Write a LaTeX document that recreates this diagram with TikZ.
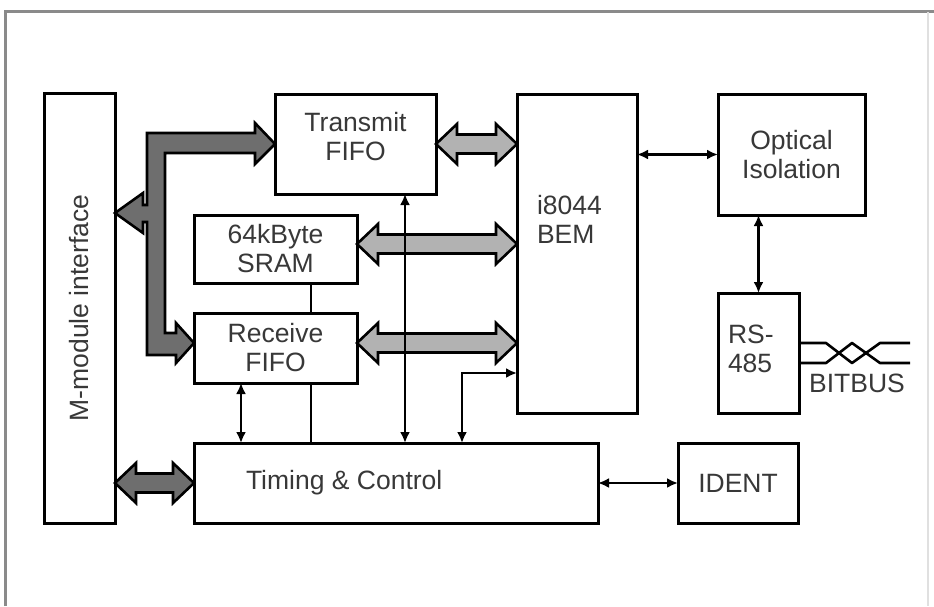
\documentclass[tikz,border=0pt]{standalone}
\usepackage{fontspec}
\setmainfont{Liberation Sans}
\usetikzlibrary{arrows.meta,calc}
\definecolor{darkbus}{HTML}{6E6E6E}
\definecolor{lightbus}{HTML}{B2B2B2}
\definecolor{txtc}{HTML}{383838}
\definecolor{framec}{HTML}{8A8A8A}
\newcommand\hbus[3]{%
  \filldraw[bus, fill=#3] let \p1=(#1), \p2=(#2) in
  (\x1,\y1) -- (\x1+21pt,\y1+20pt) -- (\x1+21pt,\y1+9.5pt) -- (\x2-21pt,\y1+9.5pt)
  -- (\x2-21pt,\y1+20pt) -- (\x2,\y1) -- (\x2-21pt,\y1-20pt) -- (\x2-21pt,\y1-9.5pt)
  -- (\x1+21pt,\y1-9.5pt) -- (\x1+21pt,\y1-20pt) -- cycle;}
\begin{document}
\begin{tikzpicture}[x=1pt,y=-1pt,
  lbl/.style={text=txtc, font=\fontsize{26.5}{29}\selectfont},
  box/.style={draw, line width=3pt, inner sep=0pt, outer sep=0pt, anchor=north west,
              align=center, lbl},
  txt/.style={inner sep=0pt, outer sep=0pt, align=left, lbl},
  sig/.style={line width=2.6pt, {Latex[length=11pt,width=10pt]}-{Latex[length=11pt,width=10pt]}},
  wire/.style={line width=2.6pt},
  bus/.style={line width=2.6pt, line join=miter, draw=black}]
\fill[white] (0,0) rectangle (934,606);
\useasboundingbox (0,0) rectangle (934,606);
% frame
\draw[framec, line width=3pt] (5,606) -- (5,11) -- (934,11);
\draw[black!12, line width=1.5pt] (928,12) -- (928,606);

% boxes
\node[box, minimum width=71pt,  minimum height=430pt] (mmod) at (44,93) {};
\node[box, minimum width=161pt, minimum height=100pt] (tx) at (275,94) {};
\node[box, minimum width=163pt, minimum height=68pt]  (sram) at (194,215) {64kByte\\SRAM};
\node[box, minimum width=163pt, minimum height=70pt]  (rx) at (194,313) {Receive\\FIFO};
\node[box, minimum width=120pt, minimum height=319pt] (bem) at (517,94) {};
\node[box, minimum width=147pt, minimum height=121pt] (opt) at (718,94) {Optical\\Isolation};
\node[box, minimum width=81pt,  minimum height=120pt] (rs) at (718,293) {};
\node[box, minimum width=404pt, minimum height=80pt]  (tc) at (194,443) {};
\node[box, minimum width=120pt, minimum height=80pt]  (ident) at (678,443) {IDENT};

% texts not centred in their boxes
\node[txt, align=center, rotate=90] (mmodt) at (mmod.center) {M-module interface};
\node[txt, align=center, yshift=7pt] (txt) at (tx.center) {Transmit\\FIFO};
\node[txt, anchor=west] (bemt) at (537,219) {i8044\\BEM};
\node[txt, anchor=west] (rst) at (728,348.5) {RS-\\485};
\node[txt, anchor=west] (tct) at (246,483) {Timing \& Control};
\node[txt] (bitbus) at (857,383) {BITBUS};

% level coordinates
\coordinate (ysram) at (0,244);
\coordinate (yrx) at (0,343);
\coordinate (xtx) at (405,0);
\coordinate (xrx) at (241,0);
\coordinate (xsr) at (311,0);
\coordinate (cbem) at (462,373);

% light grey buses to the BEM
\hbus{tx.east}{tx.east -| bem.west}{lightbus}
\hbus{sram.east |- ysram}{bem.west |- ysram}{lightbus}
\hbus{rx.east |- yrx}{bem.west |- yrx}{lightbus}

% dark bus M-module <-> Timing & Control
\hbus{mmod.east |- tc.center}{tc.west}{darkbus}

% dark bus M-module <-> FIFOs
\filldraw[bus, fill=darkbus]
  (147,133) -- (255,133) -- (255,123) -- (tx.west) -- (255,164) -- (255,153)
  -- (165,153) -- (165,333) -- (176,333) -- (176,323) -- (rx.west |- yrx)
  -- (176,363) -- (176,355) -- (147,355) -- (147,222) -- (143,222) -- (143,233)
  -- (115,213) -- (143,193) -- (143,205) -- (147,205) -- cycle;

% thin signals
\draw[sig] (tc.north -| xtx) -- (tx.south -| xtx);
\draw[sig] (tc.north -| xrx) -- (rx.south -| xrx);
\draw[wire] (sram.south -| xsr) -- (rx.north -| xsr);
\draw[wire] (rx.south -| xsr) -- (tc.north -| xsr);
\draw[sig] (tc.north -| cbem) |- (bem.west |- cbem);
\draw[sig] (bem.east |- opt.west) -- (opt.west);
\draw[sig] (rs.north) -- (rs.north |- opt.south);
\draw[sig] (tc.east) -- (ident.west);

% BITBUS twisted pair
\coordinate (bb1) at (rs.east |- 0,343);
\coordinate (bb2) at (rs.east |- 0,363);
\draw[wire, line join=round] (bb1) -- (826,343) -- (852,363) -- (880,343) -- (910,343);
\draw[wire, line join=round] (bb2) -- (826,363) -- (852,343) -- (880,363) -- (910,363);
\end{tikzpicture}
\end{document}
